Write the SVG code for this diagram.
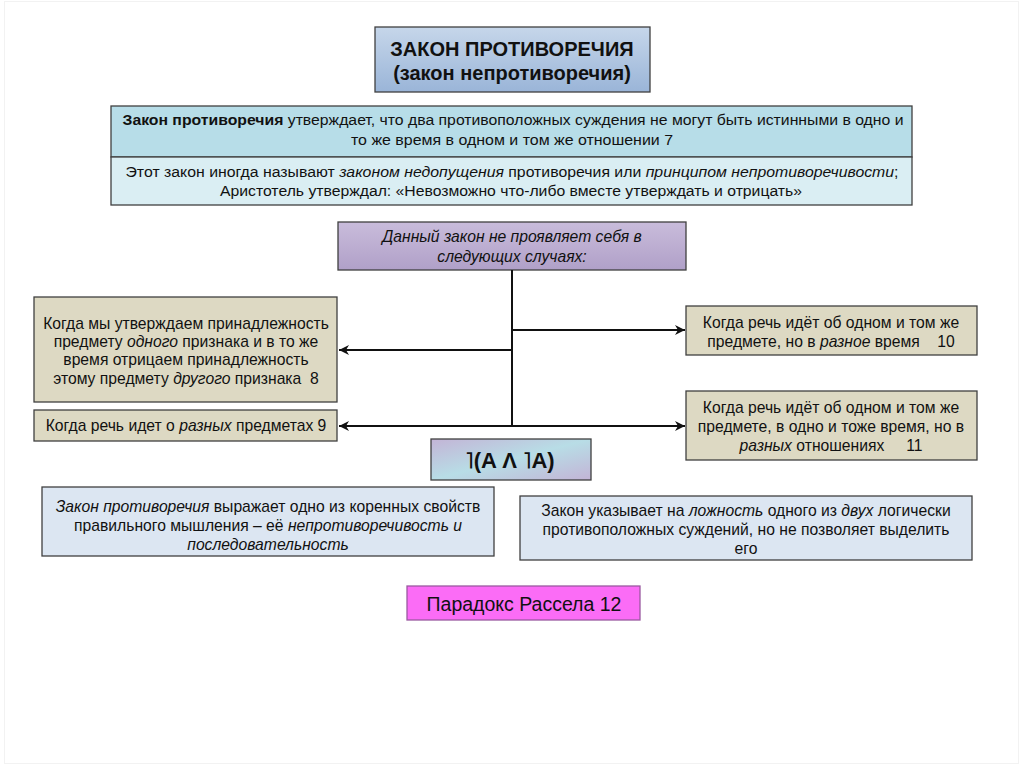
<svg xmlns="http://www.w3.org/2000/svg" width="1024" height="767" viewBox="0 0 1024 767">
<defs>
<linearGradient id="gTitle" x1="0" y1="0" x2="0" y2="1"><stop offset="0" stop-color="#c6d6ea"/><stop offset="1" stop-color="#9ab5d8"/></linearGradient>
<linearGradient id="gPurple" x1="0" y1="0" x2="0" y2="1"><stop offset="0" stop-color="#c9bcdb"/><stop offset="1" stop-color="#b0a0c8"/></linearGradient>
<linearGradient id="gFormula" x1="0" y1="0" x2="1" y2="1"><stop offset="0" stop-color="#c3b4d6"/><stop offset="0.5" stop-color="#b8dde6"/><stop offset="1" stop-color="#c3b4d6"/></linearGradient>
<marker id="arr" viewBox="0 0 10 10" refX="10" refY="5" markerWidth="10" markerHeight="10" markerUnits="userSpaceOnUse" orient="auto-start-reverse"><path d="M0,0 L10,5 L0,10 L3,5 z" fill="#111"/></marker>
</defs>
<style>
text{font-family:"Liberation Sans",Arial,sans-serif;fill:#111;text-anchor:middle}
.box{stroke:#404040;stroke-width:1.3}
.beige{fill:#ddd9c3}
.pale{fill:#dce6f2}
.t14{font-size:15.7px}
.it{font-style:italic}
.b{font-weight:bold}
.conn{stroke:#111;stroke-width:2;fill:none}
</style>
<rect width="1024" height="767" fill="#fff"/>
<rect x="4.5" y="1.5" width="1014" height="762" fill="none" stroke="#f2f2f2" stroke-width="1"/>

<g id="title">
<rect class="box" x="375" y="27" width="275" height="65" fill="url(#gTitle)"/>
<text x="512" y="56" class="b" font-size="20">ЗАКОН ПРОТИВОРЕЧИЯ</text>
<text x="512" y="80" class="b" font-size="20">(закон непротиворечия)</text>
</g>

<g id="definition">
<rect class="box" x="111" y="106" width="801" height="51" fill="#b7dde8"/>
<rect class="box" x="111" y="157" width="801" height="48" fill="#daeef3"/>
<text x="513" y="125" font-size="15.5" textLength="781" lengthAdjust="spacingAndGlyphs"><tspan class="b">Закон противоречия</tspan> утверждает, что два противоположных суждения не могут быть истинными в одно и</text>
<text x="512" y="145" font-size="15.5" textLength="322" lengthAdjust="spacingAndGlyphs">то же время в одном и том же отношении 7</text>
<text x="512" y="177" font-size="15.5" textLength="773" lengthAdjust="spacingAndGlyphs">Этот закон иногда называют <tspan class="it">законом недопущения</tspan> противоречия или <tspan class="it">принципом непротиворечивости</tspan>;</text>
<text x="511" y="196" font-size="15.5" textLength="582" lengthAdjust="spacingAndGlyphs">Аристотель утверждал: «Невозможно что-либо вместе утверждать и отрицать»</text>
</g>

<g id="cases">
<rect class="box" x="338" y="222" width="348" height="48" fill="url(#gPurple)"/>
<text x="512" y="242" class="it t14">Данный закон не проявляет себя в</text>
<text x="512" y="262" class="it t14">следующих случаях:</text>
</g>

<g id="connectors">
<line class="conn" x1="512" y1="270" x2="512" y2="426"/>
<line class="conn" x1="512" y1="350" x2="339" y2="350" marker-end="url(#arr)"/>
<line class="conn" x1="512" y1="330" x2="685" y2="330" marker-end="url(#arr)"/>
<line class="conn" x1="339" y1="426" x2="685" y2="426" marker-start="url(#arr)" marker-end="url(#arr)"/>
</g>

<g id="case8">
<rect class="box beige" x="34" y="297" width="303" height="105"/>
<text x="186" y="329" class="t14">Когда мы утверждаем принадлежность</text>
<text x="186" y="347" class="t14">предмету <tspan class="it">одного</tspan> признака и в то же</text>
<text x="186" y="365" class="t14">время отрицаем принадлежность</text>
<text x="186" y="384" class="t14" xml:space="preserve">этому предмету <tspan class="it">другого</tspan> признака  8</text>
</g>

<g id="case9">
<rect class="box beige" x="34" y="410" width="303" height="31"/>
<text x="186" y="431" class="t14">Когда речь идет о <tspan class="it">разных</tspan> предметах 9</text>
</g>

<g id="case10">
<rect class="box beige" x="686" y="306" width="291" height="49"/>
<text x="831" y="328" class="t14">Когда речь идёт об одном и том же</text>
<text x="831" y="347" class="t14" xml:space="preserve">предмете, но в <tspan class="it">разное</tspan> время    10</text>
</g>

<g id="case11">
<rect class="box beige" x="686" y="391" width="291" height="69"/>
<text x="831" y="413" class="t14">Когда речь идёт об одном и том же</text>
<text x="831" y="432" class="t14">предмете, в одно и тоже время, но в</text>
<text x="831" y="451" class="t14" xml:space="preserve"><tspan class="it">разных</tspan> отношениях     11</text>
</g>

<g id="formula">
<rect class="box" x="431" y="439" width="160" height="41" fill="url(#gFormula)"/>
<text x="510" y="468" class="b" font-size="22">˥(A Λ ˥A)</text>
</g>

<g id="property">
<rect class="box pale" x="42" y="487" width="452" height="69"/>
<text x="268" y="512" class="t14"><tspan class="it">Закон противоречия</tspan> выражает одно из коренных свойств</text>
<text x="268" y="531" class="t14">правильного мышления – её <tspan class="it">непротиворечивость и</tspan></text>
<text x="268" y="550" class="t14 it">последовательность</text>
</g>

<g id="falsity">
<rect class="box pale" x="520" y="496" width="452" height="64"/>
<text x="746" y="516" class="t14">Закон указывает на <tspan class="it">ложность</tspan> одного из <tspan class="it">двух</tspan> логически</text>
<text x="746" y="535" class="t14">противоположных суждений, но не позволяет выделить</text>
<text x="746" y="554" class="t14">его</text>
</g>

<g id="paradox">
<rect x="407" y="586" width="233" height="34" fill="#fb6cf6" stroke="#9a5aa0" stroke-width="1.3"/>
<text x="524" y="611" font-size="19.5">Парадокс Рассела 12</text>
</g>
</svg>
